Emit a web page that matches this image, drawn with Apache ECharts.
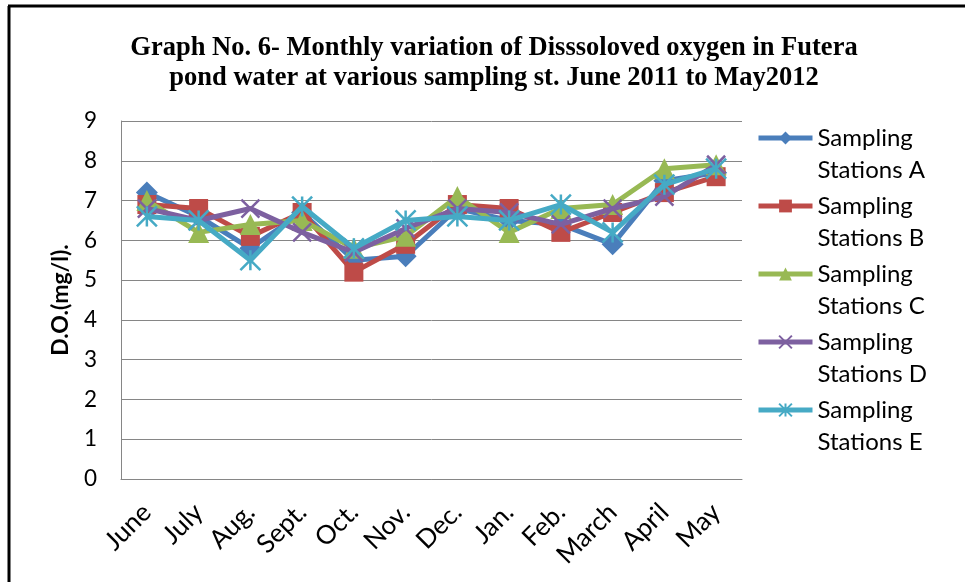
<!DOCTYPE html>
<html><head><meta charset="utf-8">
<script src="https://cdn.jsdelivr.net/npm/echarts@6/dist/echarts.min.js"></script>
<style>html,body{margin:0;padding:0;background:#fff}#c{width:965px;height:582px}</style>
</head><body><div id="c"></div>
<script>
var months = ['June','July','Aug.','Sept.','Oct.','Nov.','Dec.','Jan.','Feb.','March','April','May'];
var stationA = [7.2, 6.6, 5.8, 6.7, 5.5, 5.6, 6.8, 6.5, 6.4, 5.9, 7.5, 7.7];
var stationB = [6.9, 6.8, 6.1, 6.7, 5.2, 5.9, 6.9, 6.8, 6.2, 6.7, 7.2, 7.6];
var stationC = [7.0, 6.2, 6.4, 6.5, 5.8, 6.1, 7.1, 6.2, 6.8, 6.9, 7.8, 7.9];
var stationD = [6.8, 6.5, 6.8, 6.2, 5.7, 6.3, 6.8, 6.7, 6.4, 6.8, 7.1, 7.9];
var stationE = [6.6, 6.5, 5.5, 6.85, 5.8, 6.5, 6.6, 6.5, 6.9, 6.2, 7.4, 7.8];
var seriesNames = ['Sampling Stations A','Sampling Stations B','Sampling Stations C','Sampling Stations D','Sampling Stations E'];
var colors = ['#4A7EBB','#BE4B48','#98B954','#7D60A0','#46AAC5'];
var yTicks = [0,1,2,3,4,5,6,7,8,9];

var symbols = ['diamond','rect','triangle',
  'path://M0,0L10,10M10,0L0,10',
  'path://M5,0L5,10M0,0L10,10M10,0L0,10'];
var sizes = [22,19,21,18,20];
var allData = [stationA, stationB, stationC, stationD, stationE];

var chart = echarts.init(document.getElementById('c'));
var series = allData.map(function(d,i){
  var stroke = i >= 3;
  return {
    name: seriesNames[i], type: 'line', data: d,
    symbol: symbols[i], symbolSize: sizes[i], showAllSymbol: true,
    lineStyle: {width: 5, color: colors[i]},
    itemStyle: {color: colors[i], borderColor: colors[i], borderWidth: stroke ? 2.5 : 0},
    z: 2 + i
  };
});
chart.setOption({
  animation: false,
  color: colors,
  title: {
    text: 'Graph No. 6- Monthly variation of Disssoloved oxygen in Futera\npond water at various sampling st. June 2011 to May2012',
    left: 489, top: 28, textAlign: 'center',
    textStyle: {fontFamily: 'Liberation Serif', fontWeight: 'bold', fontSize: 26.5, lineHeight: 30, color: '#000'}
  },
  grid: {left: 121, right: 223, top: 121, bottom: 103},
  legend: {
    orient: 'vertical', left: 756, top: 90, padding: 0,
    itemWidth: 54, itemHeight: 16, itemGap: -28,
    lineStyle: {width: 5},
    formatter: function(n){ return ' \n' + n.replace('Sampling ', 'Sampling\n'); },
    textStyle: {fontFamily: 'Lato', fontSize: 24, lineHeight: 32, color: '#000'},
    data: seriesNames
  },
  xAxis: {
    type: 'category', data: months, boundaryGap: true,
    axisLine: {lineStyle: {color: '#868686', width: 1}},
    axisTick: {show: false},
    axisLabel: {rotate: 45, fontFamily: 'Lato', fontSize: 26, color: '#000', margin: 29, interval: 0}
  },
  yAxis: {
    type: 'value', min: yTicks[0], max: yTicks[yTicks.length-1], interval: 1,
    name: 'D.O.(mg/l).', nameLocation: 'middle', nameGap: 49,
    nameTextStyle: {fontFamily: 'Lato', fontWeight: 'bold', fontSize: 23, color: '#000'},
    axisLine: {show: true, lineStyle: {color: '#868686', width: 1}},
    axisTick: {show: false},
    splitLine: {lineStyle: {color: '#868686', width: 1}},
    axisLabel: {fontFamily: 'Lato', fontSize: 22.5, color: '#000', margin: 24}
  },
  graphic: [
    {type: 'line', shape: {x1: 8, y1: 6, x2: 965, y2: 6}, style: {stroke: '#000', lineWidth: 3}},
    {type: 'line', shape: {x1: 9, y1: 6, x2: 9, y2: 582}, style: {stroke: '#000', lineWidth: 3}}
  ],
  series: series
});
</script></body></html>
